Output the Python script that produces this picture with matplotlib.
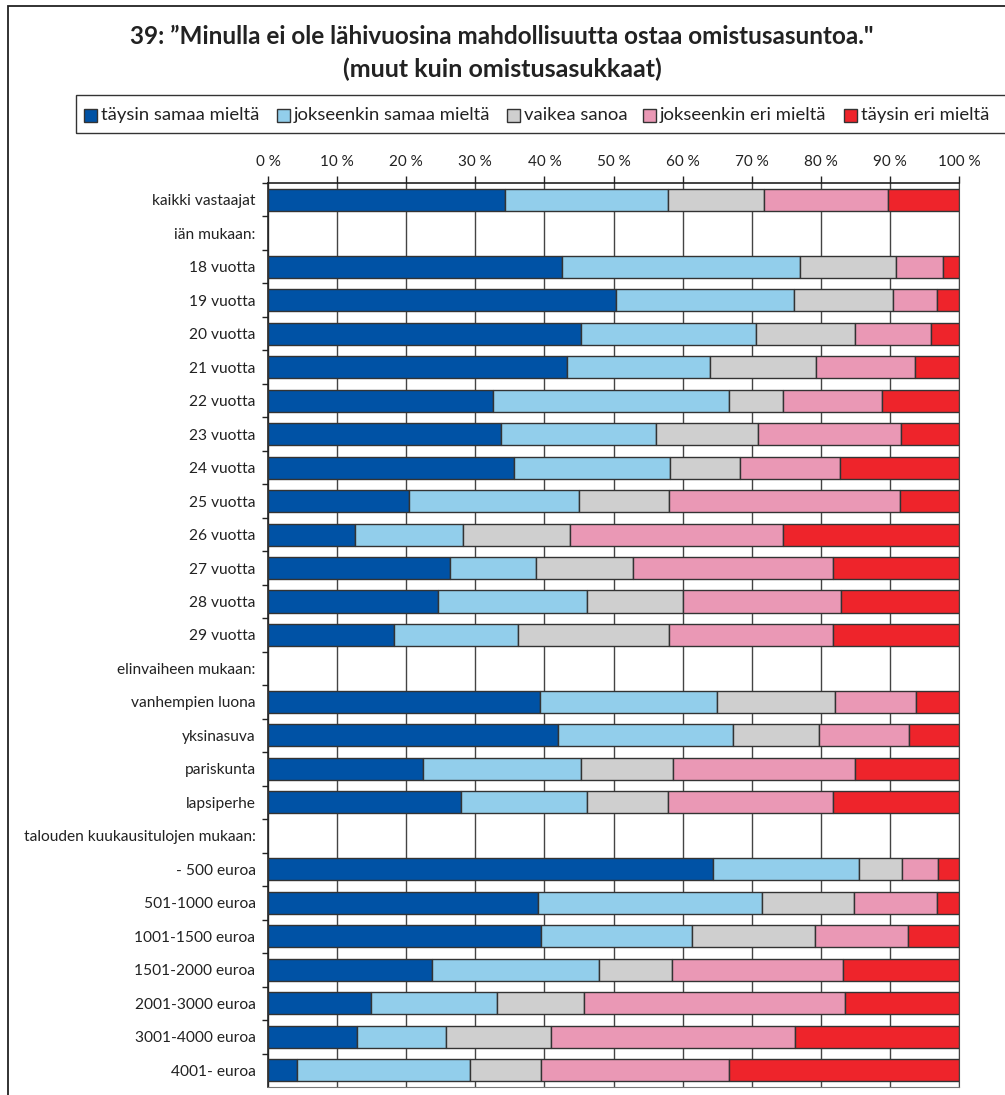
import matplotlib.pyplot as plt
from matplotlib.patches import Rectangle

plt.rcParams['font.family'] = ['Lato', 'DejaVu Sans']

# rows top to bottom; header rows have no bars (None)
labels = ['kaikki vastaajat', 'iän mukaan:',
          '18 vuotta', '19 vuotta', '20 vuotta', '21 vuotta', '22 vuotta', '23 vuotta',
          '24 vuotta', '25 vuotta', '26 vuotta', '27 vuotta', '28 vuotta', '29 vuotta',
          'elinvaiheen mukaan:',
          'vanhempien luona', 'yksinasuva', 'pariskunta', 'lapsiperhe',
          'talouden kuukausitulojen mukaan:',
          '- 500 euroa', '501-1000 euroa', '1001-1500 euroa', '1501-2000 euroa',
          '2001-3000 euroa', '3001-4000 euroa', '4001- euroa']

series_names = ['täysin samaa mieltä', 'jokseenkin samaa mieltä', 'vaikea sanoa',
                'jokseenkin eri mieltä', 'täysin eri mieltä']

taysin_samaa = [34.3, None, 42.5, 50.4, 45.3, 43.3, 32.6, 33.7, 35.6, 20.4, 12.6, 26.4, 24.6, 18.2,
                None, 39.3, 42.0, 22.5, 28.0, None, 64.4, 39.1, 39.5, 23.7, 14.9, 12.9, 4.2]
jokseenkin_samaa = [23.6, None, 34.5, 25.7, 25.3, 20.7, 34.1, 22.5, 22.6, 24.6, 15.6, 12.4, 21.5, 18.0,
                    None, 25.7, 25.3, 22.8, 18.1, None, 21.1, 32.4, 21.9, 24.2, 18.2, 12.9, 25.0]
vaikea = [13.9, None, 13.9, 14.3, 14.3, 15.3, 7.8, 14.7, 10.1, 13.1, 15.5, 14.0, 13.9, 21.9,
          None, 17.0, 12.4, 13.3, 11.8, None, 6.3, 13.3, 17.8, 10.6, 12.6, 15.2, 10.3]
jokseenkin_eri = [17.9, None, 6.8, 6.4, 11.0, 14.3, 14.4, 20.7, 14.5, 33.3, 30.9, 29.0, 22.9, 23.7,
                  None, 11.8, 13.1, 26.4, 23.9, None, 5.2, 12.0, 13.4, 24.7, 37.8, 35.3, 27.2]
taysin_eri = [10.3, None, 2.3, 3.2, 4.1, 6.4, 11.1, 8.4, 17.2, 8.6, 25.4, 18.2, 17.1, 18.2,
              None, 6.2, 7.2, 15.0, 18.2, None, 3.0, 3.2, 7.4, 16.8, 16.5, 23.7, 33.3]

x_ticks = list(range(0, 101, 10))
colors = ['#0052A5', '#92CEEB', '#CFCFCF', '#EA98B5', '#EE242B']

fig = plt.figure(figsize=(10.05, 10.95), dpi=100)
W, H = 1005, 1095
ax = fig.add_axes([268 / W, 1 - 1087 / H, (959 - 268) / W, (1087 - 183) / H])

rows = list(range(len(labels)))
left = [0.0] * len(labels)
for vals, col in zip([taysin_samaa, jokseenkin_samaa, vaikea, jokseenkin_eri, taysin_eri], colors):
    for i, v in enumerate(vals):
        if v is None:
            continue
        ax.barh(i, v, left=left[i], height=0.66, color=col, edgecolor='#333333',
                linewidth=1, zorder=3)
        left[i] += v

ax.set_xlim(0, 100)
ax.set_ylim(len(labels) - 0.5, -0.5)
ax.set_xticks(x_ticks)
ax.set_xticklabels([f'{t} %' for t in x_ticks])
ax.xaxis.tick_top()
ax.tick_params(axis='x', direction='out', length=5, width=1, color='#222222',
               labelsize=11, pad=5, labelcolor='#222222')
ax.set_yticks(rows)
ax.set_yticklabels(labels)
ax.set_yticks([r + 0.5 for r in rows[:-1]] + [-0.5], minor=True)
ax.tick_params(axis='y', which='major', length=0, labelsize=11.2, pad=9, labelcolor='#222222')
ax.tick_params(axis='y', which='minor', length=4, width=1, color='#222222')
ax.grid(axis='x', color='#444444', linewidth=1, zorder=0)
for s in ['left', 'top']:
    ax.spines[s].set_color('#222222')
    ax.spines[s].set_linewidth(1.2)
ax.spines['right'].set_color('#444444')
ax.spines['bottom'].set_color('#777777')

# figure frame
fig.add_artist(Rectangle((8 / W, -0.01), 1.0, 1 - 6 / H + 0.01, transform=fig.transFigure,
                         fill=False, edgecolor='#222222', linewidth=1.3))

# title
fig.text(502 / W, 1 - 37 / H, '39: ”Minulla ei ole lähivuosina mahdollisuutta ostaa omistusasuntoa."',
         ha='center', va='center', fontsize=17.5, fontweight='bold', color='#222222')
fig.text(502 / W, 1 - 69 / H, '(muut kuin omistusasukkaat)',
         ha='center', va='center', fontsize=18, fontweight='bold', color='#222222')

# legend
fig.add_artist(Rectangle((76 / W, 1 - 133 / H), 1.0, 38 / H, transform=fig.transFigure,
                         fill=False, edgecolor='#333333', linewidth=1))
leg_x = [84, 277, 507, 643, 844]
for x, name, col in zip(leg_x, series_names, colors):
    fig.add_artist(Rectangle((x / W, 1 - 122 / H), 13 / W, 13 / H, transform=fig.transFigure,
                             facecolor=col, edgecolor='#333333', linewidth=1))
    fig.text((x + 17) / W, 1 - 115 / H, name, ha='left', va='center', fontsize=13.3,
             color='#222222')

fig.savefig('out.png', dpi=100)
